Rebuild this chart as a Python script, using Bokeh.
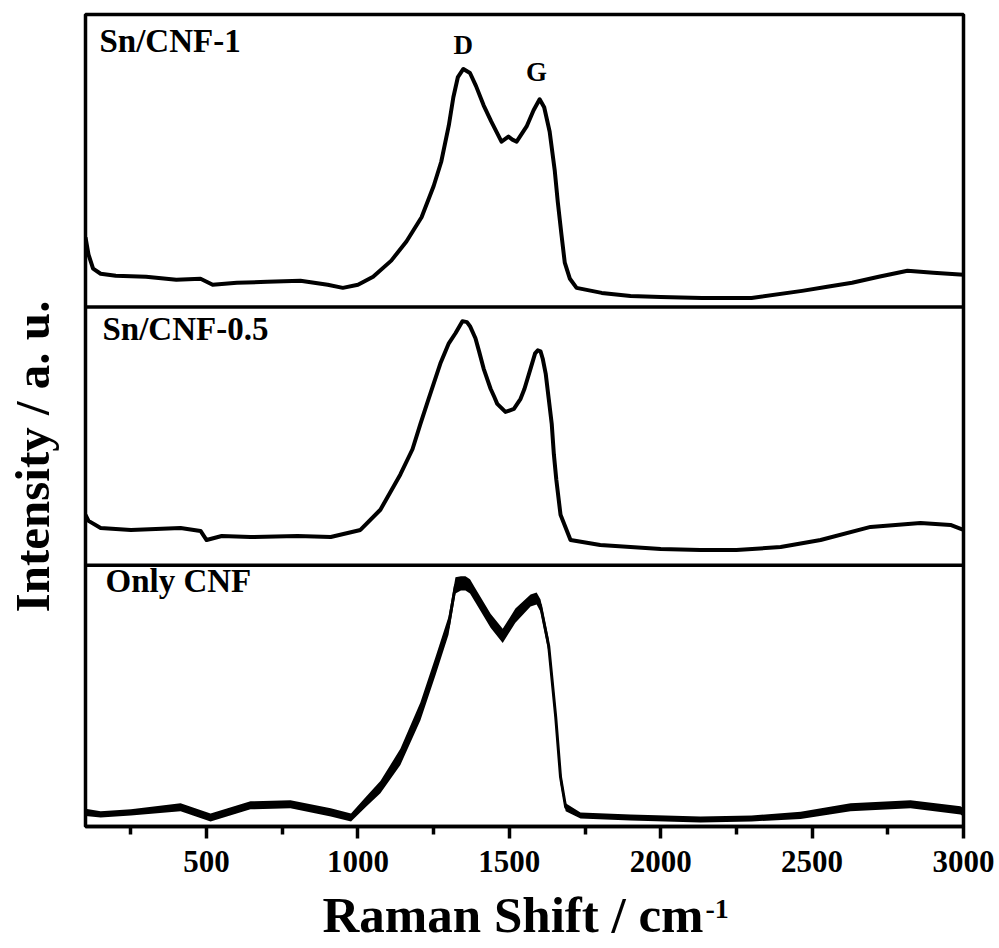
import math
from bokeh.plotting import figure
from bokeh.models import Range1d, Span, Label, FixedTicker, LinearAxis
from bokeh.embed import file_html
from bokeh.resources import INLINE

# Raman shift (cm^-1) and intensity (a.u.) for each sample
sn1_shift = [100, 110, 125, 150, 200, 300, 400, 480, 520, 600, 700, 810, 900, 950, 1000,
             1050, 1110, 1160, 1210, 1250, 1275, 1300, 1315, 1330, 1348, 1370, 1390, 1415,
             1440, 1474, 1497, 1510, 1524, 1557, 1580, 1600, 1615, 1633, 1650, 1660, 1672,
             1683, 1700, 1722, 1805, 1900, 2000, 2136, 2300, 2467, 2550, 2632, 2720, 2815,
             2900, 3000]
sn1_int = [69, 52, 38, 33, 31, 30, 27, 28, 22, 24, 25, 26, 22, 19, 22,
           30, 46, 65, 89, 120, 144, 180, 208, 228, 236, 232, 219, 200,
           184, 164, 169, 166, 164, 179, 195, 206, 198, 174, 135, 104, 72,
           44, 28, 19, 14, 11, 10, 9, 9, 16, 20, 24, 30, 36,
           34, 32]

sn05_shift = [100, 110, 150, 250, 414, 480, 500, 550, 645, 800, 910, 1008, 1074, 1140,
              1180, 1206, 1230, 1250, 1272, 1290, 1300, 1322, 1345, 1360, 1370, 1388, 1400,
              1415, 1438, 1450, 1460, 1487, 1515, 1537, 1550, 1570, 1585, 1594, 1603, 1610,
              1620, 1630, 1640, 1647, 1655, 1669, 1702, 1800, 2000, 2131, 2250, 2396, 2528,
              2693, 2858, 2957, 3000]
sn05_int = [50, 44, 37, 35, 37, 34, 25, 29, 28, 29, 28, 35, 55, 90,
            115, 140, 162, 180, 200, 213, 220, 230, 242, 241, 237, 225, 212,
            195, 175, 167, 160, 152, 155, 165, 175, 195, 210, 213, 212, 205,
            190, 165, 140, 110, 85, 50, 25, 20, 16, 15, 15, 18, 25,
            38, 42, 40, 35]

cnf_shift = [100, 150, 250, 414, 513, 645, 777, 910, 977, 1025, 1074, 1140, 1206, 1256,
             1299, 1322, 1340, 1355, 1370, 1388, 1438, 1478, 1520, 1570, 1590, 1603, 1630,
             1653, 1669, 1686, 1735, 1900, 2131, 2300, 2462, 2627, 2825, 2990, 3000]
cnf_int = [14, 12, 14, 19, 9, 21, 22, 14, 9, 24, 39, 69, 114, 159,
           199, 239, 241, 241, 238, 229, 204, 189, 209, 224, 226, 219, 179,
           109, 49, 19, 11, 9, 7, 8, 11, 19, 22, 16, 14]
# half-width of the noise band around the CNF trace
cnf_noise = [3.5, 3, 3, 4, 4, 4, 4, 4, 4, 5, 6, 8, 9, 9,
             9, 8, 7, 7, 7, 7, 7, 7, 7, 6, 6, 6, 7,
             8, 7, 4, 3, 3, 3, 3, 3.5, 4, 4, 4, 4]

# vertical stacking: each sample sits in its own band
panel_height = [259, 256, 290]          # CNF, Sn/CNF-0.5, Sn/CNF-1
offsets = [0, 259, 515]
y_top = sum(panel_height)

tick_values = [500, 1000, 1500, 2000, 2500, 3000]
minor_values = [250, 750, 1250, 1750, 2250, 2750]

FONT = "Liberation Serif"

p = figure(width=999, height=948, output_backend="svg", toolbar_location=None,
           x_range=Range1d(100, 3000), y_range=Range1d(0, y_top),
           min_border_left=85, min_border_right=36, min_border_top=14,
           min_border_bottom=0)
p.background_fill_color = "white"
p.border_fill_color = "white"
p.outline_line_color = "black"
p.outline_line_width = 3.5
p.grid.visible = False
p.yaxis.visible = False

xa = p.xaxis[0]
xa.ticker = FixedTicker(ticks=tick_values, minor_ticks=minor_values)
xa.axis_line_width = 3.5
xa.major_tick_line_width = 3.5
xa.minor_tick_line_width = 3.5
xa.major_tick_in = 0
xa.major_tick_out = 12
xa.minor_tick_in = 0
xa.minor_tick_out = 8
xa.major_label_text_font = FONT
xa.major_label_text_font_style = "bold"
xa.major_label_text_font_size = "31px"
xa.major_label_text_color = "black"
xa.major_label_standoff = 12

# empty band under the tick labels that holds the x title
title_band = LinearAxis(ticker=FixedTicker(ticks=[]), axis_line_color=None,
                        major_tick_line_color=None, minor_tick_line_color=None,
                        major_tick_in=0, major_tick_out=71, minor_tick_out=0,
                        major_label_standoff=0, major_label_text_font_size="0px")
p.add_layout(title_band, "below")

# Sn/CNF-1 (top band)
p.line(sn1_shift, [v + offsets[2] for v in sn1_int], line_color="black", line_width=4,
       line_join="round")
# Sn/CNF-0.5 (middle band)
p.line(sn05_shift, [v + offsets[1] for v in sn05_int], line_color="black", line_width=4,
       line_join="round")
# Only CNF (bottom band), noisy trace
p.varea(x=cnf_shift,
        y1=[v - n + offsets[0] for v, n in zip(cnf_int, cnf_noise)],
        y2=[v + n + offsets[0] for v, n in zip(cnf_int, cnf_noise)],
        fill_color="black")
p.line(cnf_shift, [v + offsets[0] for v in cnf_int], line_color="black", line_width=3)

# band separators
for y in (offsets[1], offsets[2]):
    p.add_layout(Span(location=y, dimension="width", line_color="black", line_width=3.5))

def make_text(text, x, y, size, units="screen", align="left", baseline="alphabetic",
              angle=0.0):
    return Label(x=x, y=y, x_units=units, y_units=units, text=text,
                 text_font=FONT, text_font_style="bold", text_font_size=size,
                 text_color="black", text_align=align, text_baseline=baseline, angle=angle)

# sample names
p.add_layout(make_text("Sn/CNF-1", 14, 786, "33px"))
p.add_layout(make_text("Sn/CNF-0.5", 17, 498, "33px"))
p.add_layout(make_text("Only CNF", 20, 246, "33px"))

# band assignments above the Sn/CNF-1 peaks
p.add_layout(make_text("D", 1348, offsets[2] + 260, "27px", units="data", align="center"))
p.add_layout(make_text("G", 1590, offsets[2] + 233, "27px", units="data", align="center"))

# axis titles in the side panels
p.add_layout(make_text("Raman Shift / cm", 237, 16, "51px"), "below")
p.add_layout(make_text("-1", 620, 40, "28px"), "below")
p.add_layout(make_text("Intensity / a. u.", 2, 370, "49px", align="center",
                       baseline="middle", angle=math.pi / 2), "left")

open("out.html", "w").write(file_html(p, INLINE))
